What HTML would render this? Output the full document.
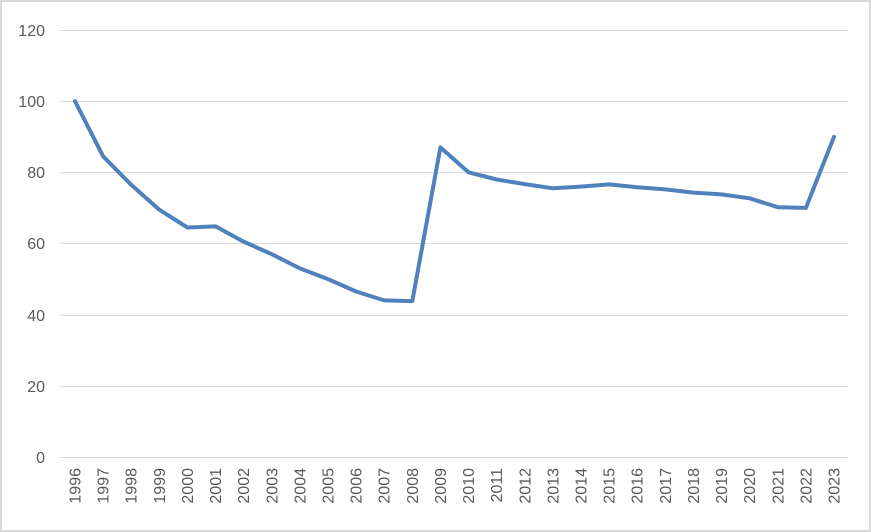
<!DOCTYPE html>
<html><head><style>
html,body{margin:0;padding:0;background:#fff;}
svg{display:block;font-family:"Liberation Sans",sans-serif;}
</style></head><body>
<svg width="871" height="532" viewBox="0 0 871 532">
<rect x="1" y="1" width="869" height="530" fill="#fff" stroke="#d9d9d9" stroke-width="2"/>
<g stroke="#d9d9d9" stroke-width="1">
<line x1="60" x2="848" y1="30.5" y2="30.5"/>
<line x1="60" x2="848" y1="101.5" y2="101.5"/>
<line x1="60" x2="848" y1="172.5" y2="172.5"/>
<line x1="60" x2="848" y1="243.5" y2="243.5"/>
<line x1="60" x2="848" y1="315.5" y2="315.5"/>
<line x1="60" x2="848" y1="386.5" y2="386.5"/>
<line x1="60" x2="848" y1="457.5" y2="457.5"/>
</g>
<g fill="#595959" font-size="16" text-anchor="end">
<text x="45" y="36">120</text>
<text x="45" y="107">100</text>
<text x="45" y="178">80</text>
<text x="45" y="249">60</text>
<text x="45" y="321">40</text>
<text x="45" y="392">20</text>
<text x="45" y="463">0</text>
</g>
<g fill="#595959" font-size="16" text-anchor="end">
<text transform="translate(80.5,468) rotate(-90)">1996</text>
<text transform="translate(108.6,468) rotate(-90)">1997</text>
<text transform="translate(136.7,468) rotate(-90)">1998</text>
<text transform="translate(164.8,468) rotate(-90)">1999</text>
<text transform="translate(192.9,468) rotate(-90)">2000</text>
<text transform="translate(221.1,468) rotate(-90)">2001</text>
<text transform="translate(249.2,468) rotate(-90)">2002</text>
<text transform="translate(277.3,468) rotate(-90)">2003</text>
<text transform="translate(305.4,468) rotate(-90)">2004</text>
<text transform="translate(333.5,468) rotate(-90)">2005</text>
<text transform="translate(361.6,468) rotate(-90)">2006</text>
<text transform="translate(389.7,468) rotate(-90)">2007</text>
<text transform="translate(417.8,468) rotate(-90)">2008</text>
<text transform="translate(445.9,468) rotate(-90)">2009</text>
<text transform="translate(474.0,468) rotate(-90)">2010</text>
<text transform="translate(502.2,468) rotate(-90)">2011</text>
<text transform="translate(530.3,468) rotate(-90)">2012</text>
<text transform="translate(558.4,468) rotate(-90)">2013</text>
<text transform="translate(586.5,468) rotate(-90)">2014</text>
<text transform="translate(614.6,468) rotate(-90)">2015</text>
<text transform="translate(642.7,468) rotate(-90)">2016</text>
<text transform="translate(670.8,468) rotate(-90)">2017</text>
<text transform="translate(698.9,468) rotate(-90)">2018</text>
<text transform="translate(727.0,468) rotate(-90)">2019</text>
<text transform="translate(755.1,468) rotate(-90)">2020</text>
<text transform="translate(783.3,468) rotate(-90)">2021</text>
<text transform="translate(811.4,468) rotate(-90)">2022</text>
<text transform="translate(839.5,468) rotate(-90)">2023</text>
</g>
<polyline fill="none" stroke="#4f81bd" stroke-width="4" stroke-linejoin="round" stroke-linecap="round" points="75.0,101.2 103.1,156.3 131.2,184.8 159.3,209.7 187.4,227.5 215.6,226.4 243.7,241.7 271.8,254.2 299.9,268.4 328.0,279.1 356.1,291.5 384.2,300.4 412.3,301.1 440.4,147.4 468.5,172.3 496.7,179.5 524.8,184.1 552.9,188.3 581.0,186.6 609.1,184.4 637.2,187.3 665.3,189.4 693.4,192.6 721.5,194.4 749.6,198.3 777.8,207.2 805.9,207.9 834.0,136.8"/>
</svg>
</body></html>
